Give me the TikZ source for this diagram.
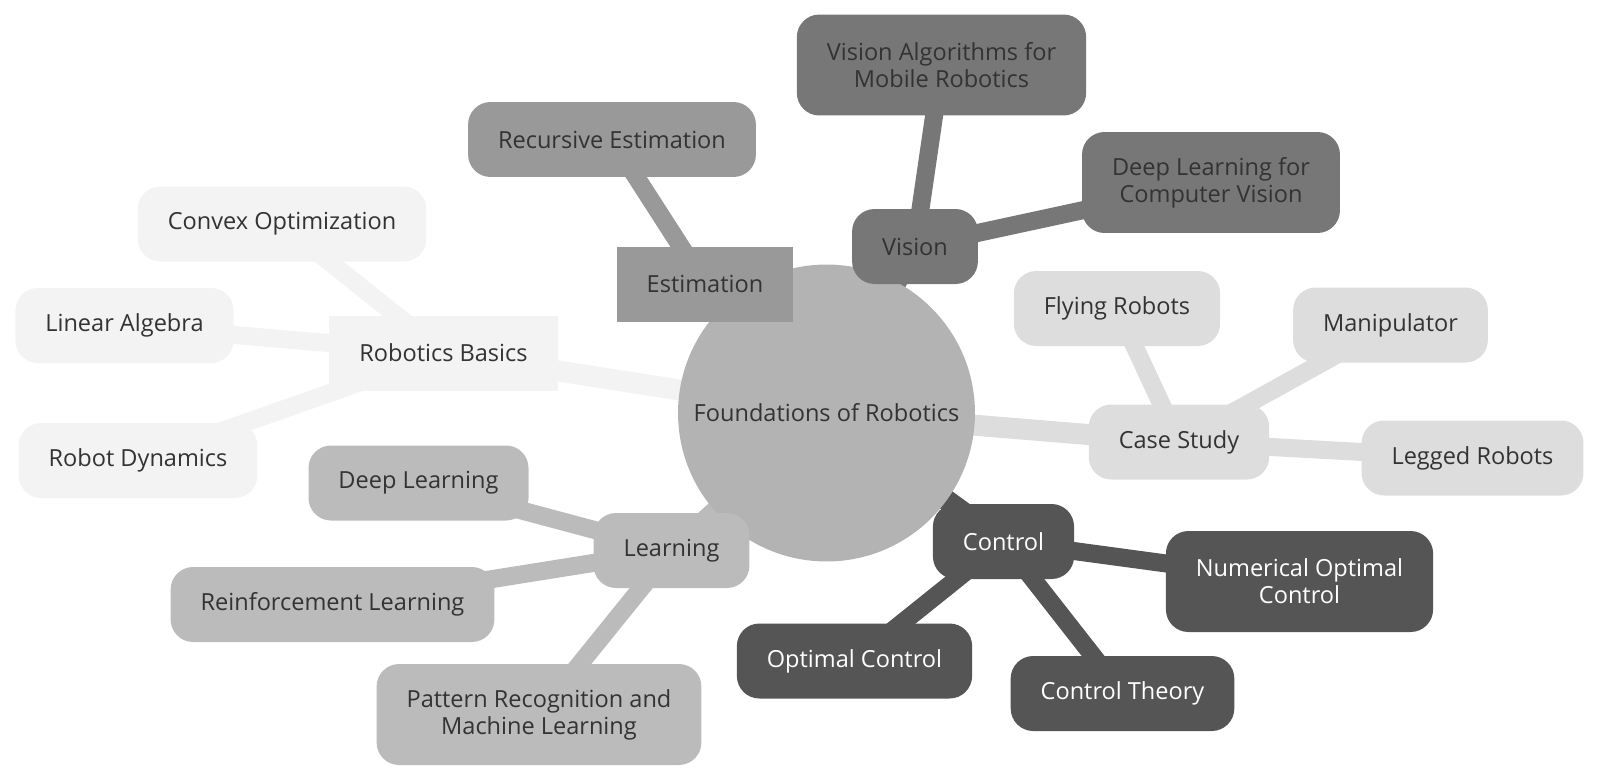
\documentclass[tikz,border=0pt]{standalone}
\usepackage{fontspec}
\setmainfont{Open Sans}
\usepackage{xcolor}
\usepackage{tikz}

\definecolor{rootgray}{HTML}{B3B3B3}
\definecolor{estgray}{HTML}{999999}
\definecolor{visgray}{HTML}{777777}
\definecolor{basgray}{HTML}{F3F3F3}
\definecolor{casegray}{HTML}{DDDDDD}
\definecolor{learngray}{HTML}{BBBBBB}
\definecolor{ctrlgray}{HTML}{555555}
\definecolor{txtgray}{HTML}{333333}

\pgfdeclarelayer{edges}
\pgfsetlayers{edges,main}

\tikzset{
  topic/.style={rounded corners=0.45cm, inner xsep=0.6cm, inner ysep=0pt,
    minimum height=1.5cm, text=txtgray, align=center,
    font=\fontsize{13.4}{15.5}\selectfont},
  boxtopic/.style={topic, rounded corners=0pt},
  twoline/.style={minimum height=2.02cm},
  rootedge/.style={line width=0.42cm},
  leafedge/.style={line width=0.36cm}
}

\begin{document}
\begin{tikzpicture}[x=0.02cm, y=-0.02cm]
    \useasboundingbox (0,0) rectangle (1600,782);

    % Root
    \node[circle, fill=rootgray, minimum size=5.94cm, text=txtgray,
      font=\fontsize{13.4}{15.5}\selectfont] (root) at (826.5,413) {Foundations of Robotics};

    % Estimation
    \node[boxtopic, fill=estgray] (est) at (705,284) {Estimation};
    \node[topic, fill=estgray] (rec) at (612,139.5) {Recursive Estimation};

    % Vision
    \node[topic, fill=visgray] (vis) at (915,246.5) {Vision};
    \node[topic, twoline, fill=visgray] (valg) at (941.5,65) {Vision Algorithms for\\Mobile Robotics};
    \node[topic, twoline, fill=visgray] (dlcv) at (1211,182.5) {Deep Learning for\\Computer Vision};

    % Robotics Basics
    \node[boxtopic, fill=basgray] (basics) at (443.5,353) {Robotics Basics};
    \node[topic, fill=basgray] (convex) at (282,224) {Convex Optimization};
    \node[topic, fill=basgray] (linalg) at (124.5,325.5) {Linear Algebra};
    \node[topic, fill=basgray] (dyn) at (138,460.5) {Robot Dynamics};

    % Case Study
    \node[topic, fill=casegray] (case) at (1179,442) {Case Study};
    \node[topic, fill=casegray] (flying) at (1117,308.5) {Flying Robots};
    \node[topic, fill=casegray] (manip) at (1390.5,325) {Manipulator};
    \node[topic, fill=casegray] (legged) at (1472.5,458) {Legged Robots};

    % Learning
    \node[topic, fill=learngray] (learn) at (671.5,550.5) {Learning};
    \node[topic, fill=learngray] (deep) at (418.5,483) {Deep Learning};
    \node[topic, fill=learngray] (rl) at (332.5,604.5) {Reinforcement Learning};
    \node[topic, twoline, fill=learngray] (pattern) at (539,714.5) {Pattern Recognition and\\Machine Learning};

    % Control
    \node[topic, fill=ctrlgray, text=white] (ctrl) at (1003.5,541.5) {Control};
    \node[topic, twoline, fill=ctrlgray, text=white] (numopt) at (1299.5,581.5) {Numerical Optimal\\Control};
    \node[topic, fill=ctrlgray, text=white] (optctrl) at (854.5,661) {Optimal Control};
    \node[topic, fill=ctrlgray, text=white] (ctheory) at (1122.5,693.5) {Control Theory};

    % Edges
    \begin{pgfonlayer}{edges}
    \draw[rootedge, estgray] (root.center) -- (est.center);
    \draw[leafedge, estgray] (est.center) -- (rec.center);
    \draw[rootedge, visgray] (root.center) -- (vis.center);
    \draw[leafedge, visgray] (vis.center) -- (valg.center);
    \draw[leafedge, visgray] (vis.center) -- (dlcv.center);
    \draw[rootedge, basgray] (root.center) -- (basics.center);
    \draw[leafedge, basgray] (basics.center) -- (convex.center);
    \draw[leafedge, basgray] (basics.center) -- (linalg.center);
    \draw[leafedge, basgray] (basics.center) -- (dyn.center);
    \draw[rootedge, casegray] (root.center) -- (case.center);
    \draw[leafedge, casegray] (case.center) -- (flying.center);
    \draw[leafedge, casegray] (case.center) -- (manip.center);
    \draw[leafedge, casegray] (case.center) -- (legged.center);
    \draw[rootedge, learngray] (root.center) -- (learn.center);
    \draw[leafedge, learngray] (learn.center) -- (deep.center);
    \draw[leafedge, learngray] (learn.center) -- (rl.center);
    \draw[leafedge, learngray] (learn.center) -- (pattern.center);
    \draw[rootedge, ctrlgray] (root.center) -- (ctrl.center);
    \draw[leafedge, ctrlgray] (ctrl.center) -- (numopt.center);
    \draw[leafedge, ctrlgray] (ctrl.center) -- (optctrl.center);
    \draw[leafedge, ctrlgray] (ctrl.center) -- (ctheory.center);
    \end{pgfonlayer}
\end{tikzpicture}
\end{document}
